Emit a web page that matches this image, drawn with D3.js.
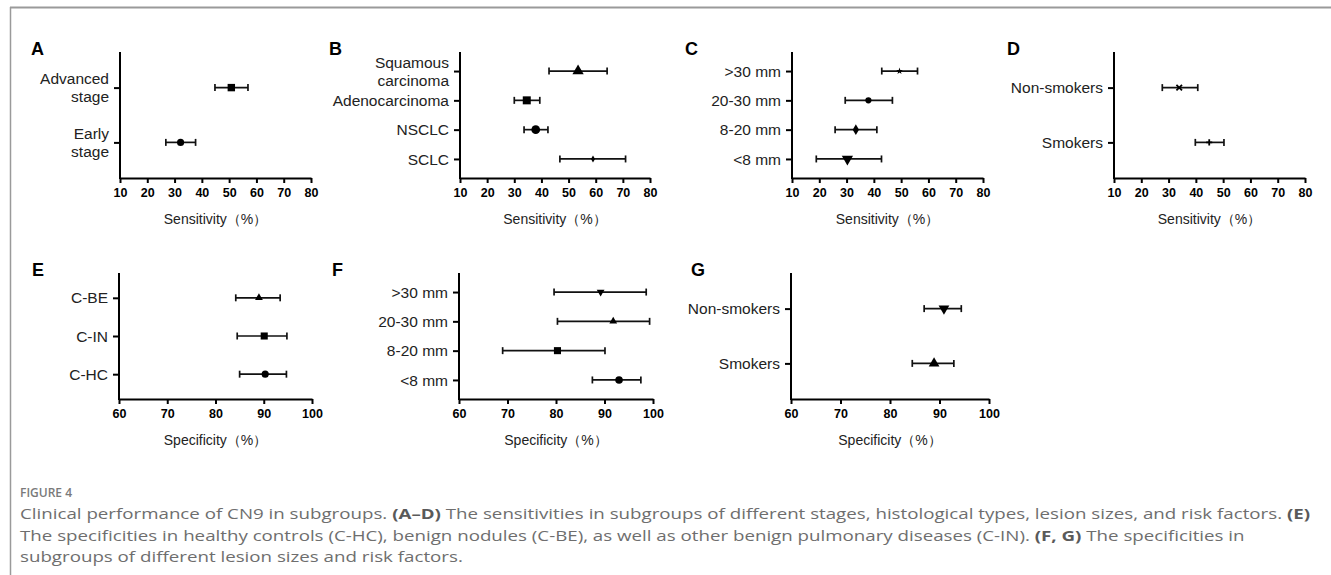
<!DOCTYPE html>
<html>
<head>
<meta charset="utf-8">
<script src="https://cdn.jsdelivr.net/npm/d3@7"></script>
<style>
  html, body { margin: 0; padding: 0; background: #fff; }
  svg { display: block; }
</style>
</head>
<body>
<svg id="chart" width="1331" height="575"></svg>
<script>
// ---------------- DATA ----------------
const sensTicks = [10, 20, 30, 40, 50, 60, 70, 80];
const specTicks = [60, 70, 80, 90, 100];

const aCategories = ["Advanced\nstage", "Early\nstage"];
const aEstimate = [50.8, 32.2];
const aLower = [44.8, 26.8];
const aUpper = [56.9, 37.7];

const bCategories = ["Squamous\ncarcinoma", "Adenocarcinoma", "NSCLC", "SCLC"];
const bEstimate = [53.5, 34.6, 37.9, 59.0];
const bLower = [42.8, 30.0, 33.6, 46.8];
const bUpper = [64.2, 39.4, 42.4, 71.0];

const cCategories = [">30 mm", "20-30 mm", "8-20 mm", "<8 mm"];
const cEstimate = [49.4, 38.0, 33.4, 30.3];
const cLower = [42.9, 29.5, 25.8, 18.9];
const cUpper = [56.0, 46.8, 41.1, 42.8];

const dCategories = ["Non-smokers", "Smokers"];
const dEstimate = [33.9, 44.9];
const dLower = [27.7, 39.8];
const dUpper = [40.7, 50.3];

const eCategories = ["C-BE", "C-IN", "C-HC"];
const eEstimate = [89.0, 90.1, 90.3];
const eLower = [84.2, 84.5, 85.0];
const eUpper = [93.4, 94.8, 94.7];

const fCategories = [">30 mm", "20-30 mm", "8-20 mm", "<8 mm"];
const fEstimate = [89.2, 91.8, 80.3, 93.0];
const fLower = [79.6, 80.3, 69.0, 87.5];
const fUpper = [98.6, 99.3, 90.1, 97.5];

const gCategories = ["Non-smokers", "Smokers"];
const gEstimate = [90.9, 88.9];
const gLower = [86.9, 84.5];
const gUpper = [94.4, 92.9];

const sensTitle = "Sensitivity（%）";
const specTitle = "Specificity（%）";

const figureLabel = "FIGURE 4";
const captionLines = [
  [["Clinical performance of CN9 in subgroups. ", false], ["(A–D)", true], [" The sensitivities in subgroups of different stages, histological types, lesion sizes, and risk factors. ", false], ["(E)", true]],
  [["The specificities in healthy controls (C-HC), benign nodules (C-BE), as well as other benign pulmonary diseases (C-IN). ", false], ["(F, G)", true], [" The specificities in", false]],
  [["subgroups of different lesion sizes and risk factors.", false]]
];

// ---------------- LAYOUT / STYLE ----------------
const svg = d3.select("#chart");
const FONT = "'Liberation Sans', Arial, Helvetica, sans-serif";

// frame
svg.append("line").attr("x1", 10).attr("x2", 1331).attr("y1", 7.5).attr("y2", 7.5)
  .attr("stroke", "#9a9a9a").attr("stroke-width", 2);
svg.append("line").attr("x1", 10.5).attr("x2", 10.5).attr("y1", 7).attr("y2", 575)
  .attr("stroke", "#9a9a9a").attr("stroke-width", 1.5);

function markerPath(shape, size) {
  switch (shape) {
    case "square": return d3.symbol(d3.symbolSquare, size)();
    case "circle": return d3.symbol(d3.symbolCircle, size)();
    case "triangle": return d3.symbol(d3.symbolTriangle, size)();
    case "triangleDown": return d3.symbol(d3.symbolTriangle, size)();
    case "diamond": return d3.symbol(d3.symbolDiamond, size)();
    case "star": return d3.symbol(d3.symbolStar, size)();
    case "times": return d3.symbol(d3.symbolTimes, size)();
    case "plus": return d3.symbol(d3.symbolPlus, size)();
  }
}

function drawPanel(p) {
  const g = svg.append("g");
  const x = d3.scaleLinear().domain(p.domain).range([p.x0, p.x0 + p.w]);
  const y = d3.scalePoint().domain(p.cats).range([p.top, p.bottom]).padding(0.65);

  // x axis
  const xa = g.append("g").attr("transform", `translate(0,${p.bottom})`)
    .call(d3.axisBottom(x).tickValues(p.ticks).tickSize(5).tickSizeOuter(0).tickPadding(5));
  xa.select(".domain").attr("stroke", "#000").attr("stroke-width", 2);
  xa.selectAll(".tick line").attr("stroke", "#000").attr("stroke-width", 2);
  xa.selectAll(".tick text").attr("font-family", FONT).attr("font-weight", "bold")
    .attr("font-size", 12.5).attr("fill", "#000");

  // y axis
  const ya = g.append("g").attr("transform", `translate(${p.x0},0)`)
    .call(d3.axisLeft(y).tickSize(6).tickSizeOuter(0).tickFormat(""));
  ya.select(".domain").attr("stroke", "#000").attr("stroke-width", 2)
    .attr("d", `M0,${p.top}V${p.bottom + 1}`);
  ya.selectAll(".tick line").attr("stroke", "#000").attr("stroke-width", 2);

  // category labels (support line breaks)
  p.cats.forEach(c => {
    const lines = c.split("\n");
    const t = g.append("text").attr("text-anchor", "end")
      .attr("font-family", FONT).attr("font-size", 15.5).attr("fill", "#222");
    const lh = 18;
    lines.forEach((ln, i) => {
      t.append("tspan").attr("x", p.x0 - 11)
        .attr("y", y(c) + (i - (lines.length - 1) / 2) * lh)
        .attr("dy", "0.36em").text(ln);
    });
  });

  // error bars and markers
  p.cats.forEach((c, i) => {
    const yy = y(c);
    const eb = g.append("g").attr("stroke", "#111").attr("stroke-width", 1.7);
    eb.append("line").attr("x1", x(p.lo[i])).attr("x2", x(p.hi[i])).attr("y1", yy).attr("y2", yy);
    eb.append("line").attr("x1", x(p.lo[i])).attr("x2", x(p.lo[i])).attr("y1", yy - 3.5).attr("y2", yy + 3.5);
    eb.append("line").attr("x1", x(p.hi[i])).attr("x2", x(p.hi[i])).attr("y1", yy - 3.5).attr("y2", yy + 3.5);
    const shape = p.shapes[i], size = p.sizes[i];
    const m = g.append("path").attr("d", markerPath(shape, size))
      .attr("transform", `translate(${x(p.est[i])},${yy})` + (shape === "triangleDown" ? " rotate(180)" : ""));
    if (shape === "times" || shape === "plus") {
      m.attr("fill", "none").attr("stroke", "#000").attr("stroke-width", 1.8);
    } else {
      m.attr("fill", "#000");
    }
  });

  // axis title
  g.append("text").attr("x", p.x0 + p.w / 2).attr("y", p.bottom + 46)
    .attr("text-anchor", "middle").attr("font-family", FONT).attr("font-size", 14)
    .attr("fill", "#222").text(p.title);

  // panel letter
  g.append("text").attr("x", p.lx).attr("y", p.top + 3)
    .attr("font-family", FONT).attr("font-weight", "bold").attr("font-size", 18)
    .attr("fill", "#000").text(p.letter);
}

const row1 = { top: 52, bottom: 178 };
const row2 = { top: 273, bottom: 399 };

drawPanel({ ...row1, x0: 120, w: 191, domain: [10, 80], ticks: sensTicks, title: sensTitle,
  cats: aCategories, est: aEstimate, lo: aLower, hi: aUpper, letter: "A", lx: 31,
  shapes: ["square", "circle"], sizes: [55, 40] });
drawPanel({ ...row1, x0: 460, w: 190, domain: [10, 80], ticks: sensTicks, title: sensTitle,
  cats: bCategories, est: bEstimate, lo: bLower, hi: bUpper, letter: "B", lx: 329,
  shapes: ["triangle", "square", "circle", "diamond"], sizes: [55, 64, 60, 14] });
drawPanel({ ...row1, x0: 792, w: 191, domain: [10, 80], ticks: sensTicks, title: sensTitle,
  cats: cCategories, est: cEstimate, lo: cLower, hi: cUpper, letter: "C", lx: 685,
  shapes: ["star", "circle", "diamond", "triangleDown"], sizes: [14, 30, 34, 55] });
drawPanel({ ...row1, x0: 1114, w: 191, domain: [10, 80], ticks: sensTicks, title: sensTitle,
  cats: dCategories, est: dEstimate, lo: dLower, hi: dUpper, letter: "D", lx: 1007,
  shapes: ["times", "plus"], sizes: [22, 14] });

drawPanel({ ...row2, x0: 119, w: 193, domain: [60, 100], ticks: specTicks, title: specTitle,
  cats: eCategories, est: eEstimate, lo: eLower, hi: eUpper, letter: "E", lx: 32,
  shapes: ["triangle", "square", "circle"], sizes: [26, 50, 40] });
drawPanel({ ...row2, x0: 459, w: 194, domain: [60, 100], ticks: specTicks, title: specTitle,
  cats: fCategories, est: fEstimate, lo: fLower, hi: fUpper, letter: "F", lx: 332,
  shapes: ["triangleDown", "triangle", "square", "circle"], sizes: [26, 26, 50, 45] });
drawPanel({ ...row2, x0: 791, w: 198, domain: [60, 100], ticks: specTicks, title: specTitle,
  cats: gCategories, est: gEstimate, lo: gLower, hi: gUpper, letter: "G", lx: 691,
  shapes: ["triangleDown", "triangle"], sizes: [50, 50] });

// ---------------- CAPTION ----------------
const CAP_FONT = "'Open Sans', Lato, sans-serif";
svg.append("text").attr("x", 20).attr("y", 497)
  .attr("font-family", CAP_FONT).attr("font-size", 12).attr("font-weight", 600)
  .attr("fill", "#7a7a7a").text(figureLabel);

const capYs = [519, 541, 562];
const capTexts = captionLines.map((parts, li) => {
  const t = svg.append("text").attr("y", capYs[li])
    .attr("font-family", CAP_FONT).attr("font-size", 15).attr("fill", "#6e6e6e");
  parts.forEach(([s, b]) => {
    t.append("tspan").attr("font-weight", b ? "bold" : "normal")
      .attr("fill", b ? "#5a5a5a" : "#6e6e6e").text(s);
  });
  return t;
});
// stretch horizontally so the first line spans the reference block width
const w0 = capTexts[0].node().getComputedTextLength();
const sx = 1291 / w0;
capTexts.forEach(t => t.attr("transform", `translate(20,0) scale(${sx},1)`));
</script>
</body>
</html>
